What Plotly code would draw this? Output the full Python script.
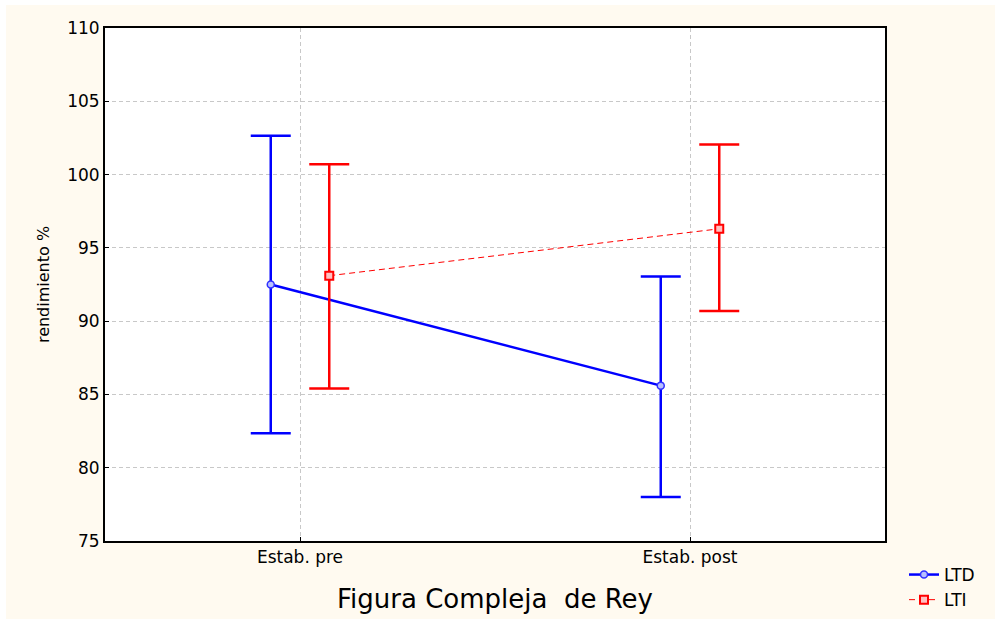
import plotly.graph_objects as go

categories = ["Estab. pre", "Estab. post"]
ltd_mean = [92.5, 85.6]
ltd_upper = [102.65, 93.05]
ltd_lower = [82.35, 78.0]
lti_mean = [93.1, 96.3]
lti_upper = [100.7, 102.05]
lti_lower = [85.4, 90.7]
y_ticks = [75, 80, 85, 90, 95, 100, 105, 110]

FONT = "DejaVu Sans, Liberation Sans, Arial, sans-serif"
CREAM = "#fffaf0"
OFF = 0.075

idx = list(range(len(categories)))
x_ltd = [i - OFF for i in idx]
x_lti = [i + OFF for i in idx]

fig = go.Figure()
fig.add_trace(go.Scatter(
    x=x_ltd, y=ltd_mean, name="LTD", mode="lines+markers",
    line=dict(color="#0000ff", width=2.5),
    marker=dict(symbol="circle", size=7, color="#b8c0ff", line=dict(color="#3030ff", width=1.5)),
    error_y=dict(type="data", symmetric=False,
                 array=[u - m for u, m in zip(ltd_upper, ltd_mean)],
                 arrayminus=[m - l for l, m in zip(ltd_lower, ltd_mean)],
                 color="#0000ff", thickness=2.5, width=20),
))
fig.add_trace(go.Scatter(
    x=x_lti, y=lti_mean, name="LTI", mode="lines+markers",
    line=dict(color="#ff0000", width=1, dash="6px,4px"),
    marker=dict(symbol="square", size=8, color="#ffc0c0", line=dict(color="#ff0000", width=2)),
    error_y=dict(type="data", symmetric=False,
                 array=[u - m for u, m in zip(lti_upper, lti_mean)],
                 arrayminus=[m - l for l, m in zip(lti_lower, lti_mean)],
                 color="#ff0000", thickness=2.5, width=20),
))

W, H = 995, 619
L, R, T, B = 105, 110, 28, 78
pw, ph = W - L - R, H - T - B

def px(x):
    return (x - L) / pw

def py(y):
    return (H - B - y) / ph

fig.update_layout(
    width=W, height=H,
    margin=dict(l=L, r=R, t=T, b=B, pad=0, autoexpand=False),
    paper_bgcolor=CREAM, plot_bgcolor="white",
    font=dict(family=FONT, size=15, color="black"),
    showlegend=True,
    legend=dict(x=px(904), y=py(557), xanchor="left", yanchor="top",
                bgcolor="rgba(0,0,0,0)", font=dict(size=17, family=FONT),
                itemwidth=30, tracegroupgap=0),
    xaxis=dict(
        range=[-0.5, 1.5], tickmode="array", tickvals=idx, ticktext=categories,
        showgrid=True, gridcolor="#c8c8c8", griddash="4px,3px", gridwidth=1,
        showline=True, mirror=True, linecolor="black", linewidth=2,
        ticks="inside", ticklen=4, tickcolor="black", zeroline=False,
        tickfont=dict(size=17),
        title=dict(text="Figura Compleja  de Rey", font=dict(size=26), standoff=23),
    ),
    yaxis=dict(
        range=[75, 110], tickmode="array", tickvals=y_ticks,
        showgrid=True, gridcolor="#c8c8c8", griddash="4px,3px", gridwidth=1,
        showline=True, mirror=True, linecolor="black", linewidth=2,
        ticks="inside", ticklen=4, tickcolor="black", zeroline=False,
        tickfont=dict(size=17),
        title=dict(text="rendimiento %", font=dict(size=16), standoff=14),
    ),
    shapes=[
        dict(type="rect", xref="paper", yref="paper", x0=px(0), x1=px(W), y0=py(5), y1=py(0),
             fillcolor="white", line=dict(width=0), layer="below"),
        dict(type="rect", xref="paper", yref="paper", x0=px(0), x1=px(6), y0=py(H), y1=py(0),
             fillcolor="white", line=dict(width=0), layer="below"),
    ],
)

fig.write_html("out.html", config={"displayModeBar": False},
               post_script="document.body.style.margin='0';document.body.style.overflow='hidden';")
